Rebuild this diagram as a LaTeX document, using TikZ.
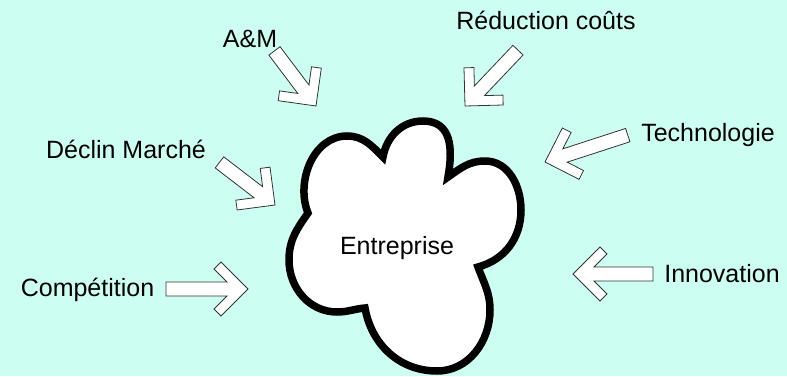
\documentclass[tikz,border=0pt]{standalone}
\usepackage{fontspec}
\setmainfont{Liberation Sans}
\usetikzlibrary{positioning}

\definecolor{bgcyan}{RGB}{204,255,242}

% block arrow: tip x, tip y, angle, length
\newcommand{\blockarrow}[4]{%
  \draw[arrowbox,shift={(#1,#2)},rotate=#3] (0,0) -- (-27,27) -- (-34,20) -- (-21,7)
    -- (-#4,7) -- (-#4,-7) -- (-21,-7) -- (-34,-20) -- (-27,-27) -- cycle;}

\begin{document}
\begin{tikzpicture}[x=1pt,y=1pt,
    arrowbox/.style={draw=black!80, line width=0.8pt, fill=white, line join=miter},
    cloudline/.style={draw=black, line width=7.5pt, fill=white, line join=miter},
    label/.style={anchor=base, inner sep=0pt, font=\fontsize{25}{30}\selectfont}]
    \useasboundingbox (0,0) rectangle (787,376);
    \fill[bgcyan] (0,0) rectangle (787,376);

    % the cloud
    \draw[cloudline] (308,163)
        to[out=112,in=180] (347,240)
        to[out=0,in=135] (383,219)
        to[out=80,in=180] (423,255)
        to[out=0,in=80,looseness=1.2] (448,199)
        to[out=35,in=180] (485,215)
        to[out=0,in=90] (521,166)
        to[out=270,in=15] (478,109)
        to[out=-70,in=90] (490,66)
        to[out=270,in=0] (437,5)
        to[out=180,in=-80] (365,68)
        to[out=185,in=0] (337,64)
        to[out=180,in=270] (289,116)
        to[out=90,in=235] (308,163) -- cycle;
    \node[label] (firm) at (397,122) {Entreprise};

    % arrows
    \blockarrow{316}{270}{-53}{69}
    \blockarrow{465}{270}{226.5}{77}
    \blockarrow{545}{214}{198}{87}
    \blockarrow{275}{171}{-37.5}{70}
    \blockarrow{248}{87}{0}{82}
    \blockarrow{573}{102}{180}{80}

    % forces
    \node[label] (am) at (250,329) {A\&M};
    \node[label] (costs) at (546,347) {Réduction coûts};
    \node[label] (tech) at (708,235) {Technologie};
    \node[label] (decline) at (126,218) {Déclin Marché};
    \node[label] (comp) at (87.5,80) {Compétition};
    \node[label] (innov) at (722,94) {Innovation};
\end{tikzpicture}
\end{document}
